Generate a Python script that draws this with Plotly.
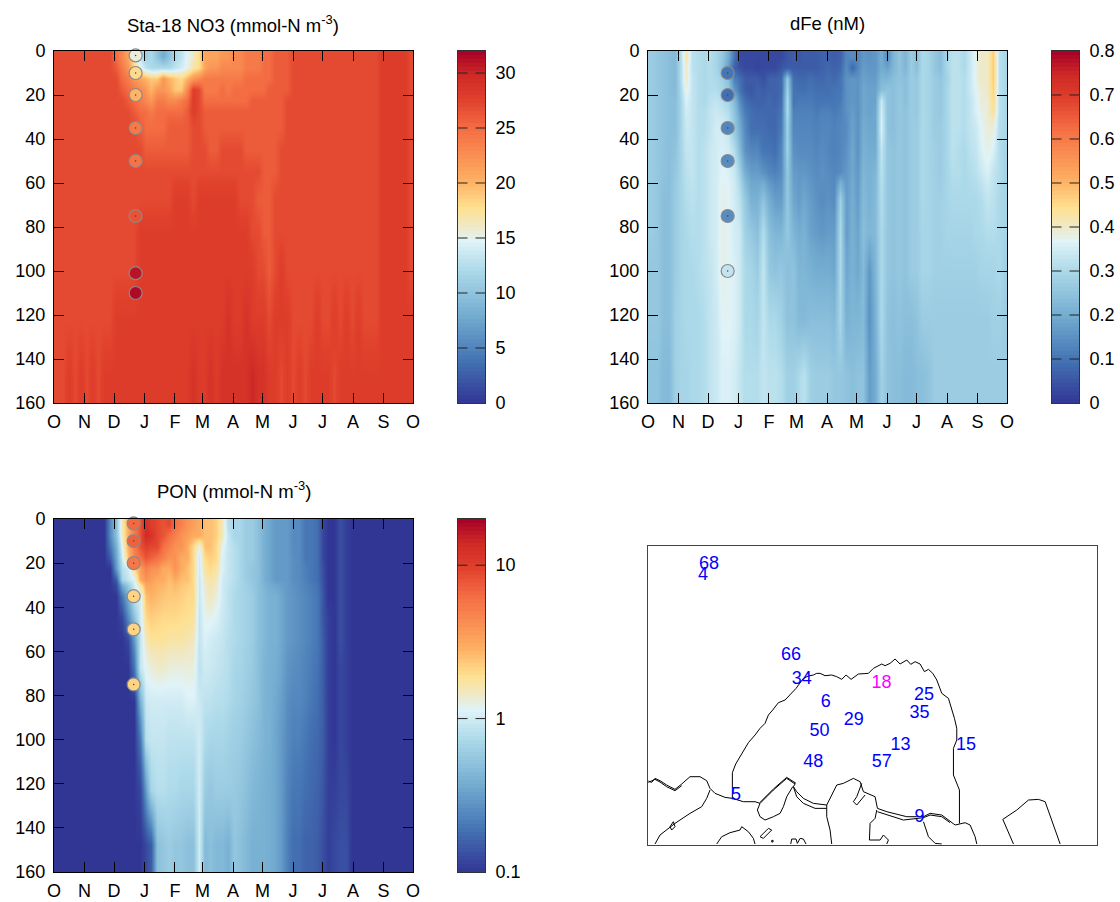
import numpy as np
import plotly.graph_objects as go

W, H = 1120, 902

# ---- shared grid -------------------------------------------------------
day_edges = list(range(0, 361, 6)) + [365]
depth_edges = [0, 5, 10, 15, 20, 25, 30, 40, 50, 60, 75, 90, 110, 135, 160]
month_days = [0, 31, 61, 92, 123, 151, 182, 212, 243, 273, 304, 335, 365]
month_labels = ["O", "N", "D", "J", "F", "M", "A", "M", "J", "J", "A", "S", "O"]
depth_ticks = [0, 20, 40, 60, 80, 100, 120, 140, 160]

# ---- NO3 (mmol-N m-3): one row per depth layer, one value per 6-day column
no3_rows = [
 [27,27,27,27,27,27,27,27,27,27, 25,23,21,17,13,11,12,10,8,10, 12,13,15,16,18,21,21,21,22,22, 23,23,24,24,24,25,25,26,26,26, 27,27,27,27,27,27,27,27,27,27, 27,27,27,27,27,28,28,28,28,28,27],
 [27,27,27,27,27,27,27,27,27,27, 26,24,22,18,15,13,12,12,12,12, 13,14,15,17,18,21,22,22,23,23, 23,23,24,24,24,25,25,26,26,26, 27,27,27,27,27,27,27,27,27,27, 27,27,27,27,27,28,28,28,28,28,27],
 [27,27,27,27,27,27,27,27,27,27, 27,25,24,22,21,20,19,19,22,20, 19,18,20,22,23,24,24,24,24,24, 24,24,25,25,25,25,25,26,26,26, 27,27,27,27,27,27,27,27,27,27, 27,27,27,27,27,28,28,28,28,28,27],
 [27,27,27,27,27,27,27,27,27,27, 27,26,25,24,23,22,20,22,22,21, 19,19,23,28,27,24,24,24,25,24, 25,25,25,25,25,25,26,26,26,26, 27,27,27,27,27,27,27,27,27,27, 27,27,27,27,27,28,28,28,28,28,27],
 [27,27,27,27,27,27,27,27,27,27, 27,27,26,25,24,23,22,24,24,23, 23,24,25,28,27,25,25,25,25,25, 25,25,25,26,26,26,26,26,26,27, 27,27,27,27,27,27,27,27,27,27, 27,27,27,27,27,28,28,28,28,28,27],
 [27,27,27,27,27,27,27,27,27,27, 27,27,27,26,25,25,24,25,25,25, 25,25,26,28,27,26,26,26,26,26, 26,26,26,26,26,26,26,26,26,27, 27,27,27,27,27,27,27,27,27,27, 27,27,27,27,27,28,28,28,28,28,27],
 [27,27,27,27,27,27,27,27,27,27, 27,27,27,27,26,25,25,25,25,26, 26,26,26,27,27,26,26,26,26,26, 26,26,26,26,26,26,26,26,26,27, 27,27,27,27,27,27,27,27,27,27, 27,27,27,27,27,28,28,28,28,28,27],
 [27,27,27,27,27,27,27,27,27,27, 27,27,27,27,27,26,26,26,26,26, 26,26,26,27,27,27,26,26,27,27, 27,27,26,26,26,26,26,26,27,27, 27,27,27,27,27,27,27,27,27,27, 27,27,27,27,27,28,28,28,28,28,27],
 [27,27,27,27,27,27,27,27,27,27, 27,27,27,27,27,27,27,27,27,27, 27,27,27,27,27,27,27,27,27,27, 27,27,27,27,27,26,26,26,27,27, 27,27,27,27,27,27,27,27,27,27, 27,27,27,27,27,28,28,28,28,28,27],
 [27,27,27,27,27,27,27,27,27,27, 27,27,27,27,27,27,27,27,27,27, 28,28,28,27,28,28,28,28,28,28, 28,27,27,27,26,26,26,27,27,27, 27,27,27,27,27,27,27,27,27,27, 27,27,27,27,27,28,28,28,28,28,27],
 [27,27,27,27,27,27,27,27,27,27, 27,27,27,27,28,28,28,28,28,28, 28,28,28,28,28,28,28,28,28,28, 28,28,28,27,27,26,26,27,27,27, 27,27,27,27,27,27,27,27,27,27, 27,27,27,27,27,28,28,28,28,28,27],
 [27,27,27,27,27,27,27,27,27,27, 27,27,27,27,28,28,28,28,28,28, 28,28,28,28,28,28,28,28,28,28, 28,28,28,28,27,27,26,27,28,27, 27,27,27,27,27,27,27,27,27,27, 27,27,27,27,27,28,28,28,28,28,27],
 [27,27,27,27,27,27,27,27,27,27, 28,28,28,28,28,28,28,28,28,28, 28,28,28,28,28,28,28,28,28,29, 28,28,29,28,28,28,27,28,28,28, 27,27,27,27,28,27,27,28,27,28, 27,28,27,27,27,28,28,28,28,28,28],
 [27,27,28,27,28,27,28,27,28,28, 28,28,28,28,28,28,28,28,28,28, 28,28,28,29,28,28,29,28,29,29, 29,29,29,30,29,29,28,28,27,28, 27,28,27,28,28,28,28,27,28,28, 28,28,28,28,28,28,28,28,28,28,28],
]
no3_obs_depth = [2, 10, 20, 35, 50, 75, 101, 110]
no3_obs_value = [15.5, 18, 20, 24, 24.5, 26.5, 31, 31.5]
no3_obs_day = 83
no3_ticks = [0, 5, 10, 15, 20, 25, 30]
no3_tick_text = ["0", "5", "10", "15", "20", "25", "30"]
no3_range = [0, 32]

# ---- dFe in hundredths of a nM --------------------------------------------
dfe_rows_centi = [
 [27,26,25,24,23,31,42,32,31,30, 31,29,26,20,10,3,3,3,3,3, 3,3,3,5,6,5,6,6,6,7, 7,6,7,13,14,13,16,15,16,20, 14,22,25,22,27,24,30,29,26,24, 29,32,32,30,34,38,40,40,47,32,30],
 [27,26,25,24,23,31,40,32,31,30, 31,29,25,17,7,4,3,3,2,3, 3,3,5,6,6,6,6,6,6,7, 8,7,8,14,8,13,17,16,16,20, 18,22,25,22,27,24,30,29,26,24, 29,32,32,30,34,38,40,40,47,32,30],
 [27,26,25,24,23,31,40,33,31,30, 31,30,28,24,12,9,6,6,6,4, 7,7,8,26,9,8,8,9,8,8, 9,8,10,15,16,15,18,17,17,22, 22,24,25,24,27,26,30,29,27,26, 28,32,32,31,34,38,40,40,47,32,30],
 [27,26,25,24,23,30,38,33,31,30, 31,31,29,26,16,10,6,5,7,6, 7,7,8,28,10,9,9,10,9,9, 9,10,10,15,16,15,19,18,18,24, 25,24,26,24,27,26,30,29,27,26, 29,32,32,31,34,37,39,40,46,32,30],
 [27,26,25,24,24,29,36,33,31,30, 32,33,31,29,23,14,9,7,7,7, 8,7,9,30,10,11,11,11,10,10, 10,10,11,15,16,15,19,18,18,34, 25,24,26,24,27,26,30,29,27,26, 29,32,32,31,33,36,39,39,45,32,30],
 [27,26,25,24,24,29,35,33,31,31, 33,34,33,31,25,17,11,9,8,8, 8,8,10,30,12,12,12,12,11,12, 12,11,12,15,17,15,19,18,19,35, 25,24,26,25,27,26,30,29,27,26, 29,32,32,31,33,36,38,39,44,32,30],
 [27,26,25,24,24,29,34,33,31,31, 33,35,35,33,26,20,13,9,9,9, 8,8,11,28,13,13,13,13,12,13, 13,12,13,14,18,15,20,19,19,36, 25,24,26,25,27,27,30,29,27,27, 29,32,32,31,33,34,37,39,39,31,30],
 [27,26,25,24,25,29,33,33,31,32, 34,35,36,35,31,23,15,13,13,10, 10,9,13,28,15,14,14,14,13,14, 13,12,13,15,19,15,21,20,20,33, 26,25,26,25,27,27,30,29,28,27, 29,32,31,30,32,33,36,38,36,31,29],
 [27,26,25,24,26,29,32,33,31,32, 34,35,37,36,34,28,20,17,17,15, 13,12,14,26,17,16,16,15,14,15, 14,13,14,16,19,16,22,21,22,32, 26,25,26,25,27,27,30,29,28,27, 29,31,31,30,31,32,34,36,33,31,29],
 [27,26,24,24,27,29,31,32,31,32, 34,35,38,37,35,32,26,21,21,25, 20,17,17,26,19,17,19,17,15,14, 15,14,28,17,20,17,23,21,23,31, 26,25,26,25,27,27,30,29,28,28, 29,30,30,30,30,30,31,33,32,30,29],
 [27,26,24,24,27,29,30,31,31,32, 34,35,38,37,35,34,28,26,24,31, 24,22,22,26,22,20,21,18,17,16, 17,17,30,17,21,18,24,22,23,30, 26,25,26,25,27,27,29,29,28,28, 29,29,29,29,29,30,30,31,31,30,29],
 [26,26,24,24,27,29,30,30,31,32, 33,35,38,37,36,34,30,29,27,33, 26,25,26,24,25,22,22,21,20,20, 20,19,30,19,21,19,23,16,22,30, 26,25,26,25,27,27,29,29,28,28, 28,28,28,28,28,28,29,29,29,30,28],
 [26,26,24,24,28,29,30,30,30,31, 33,34,37,37,36,34,30,30,29,33, 30,30,28,25,25,23,23,24,24,24, 24,23,29,21,22,22,23,15,21,30, 25,24,25,24,24,25,27,27,27,27, 27,27,27,27,27,27,27,27,28,28,27],
 [25,25,23,23,28,29,29,30,30,31, 33,34,36,36,35,33,31,31,31,33, 32,32,31,28,28,30,32,28,27,27, 27,26,26,25,24,25,25,17,20,28, 25,24,24,23,23,24,24,25,27,27, 27,27,27,27,27,27,27,27,27,27,27],
]
dfe_obs_depth = [10, 20, 35, 50, 75, 100]
dfe_obs_value = [0.10, 0.09, 0.13, 0.14, 0.14, 0.33]
dfe_obs_day = 81
dfe_ticks = [0, 0.1, 0.2, 0.3, 0.4, 0.5, 0.6, 0.7, 0.8]
dfe_tick_text = ["0", "0.1", "0.2", "0.3", "0.4", "0.5", "0.6", "0.7", "0.8"]
dfe_range = [0, 0.8]

# ---- PON (mmol-N m-3) -------------------------------------------------------
pon_rows = [
 [.1,.1,.1,.1,.1,.1,.1,.1,.1,.25, .5,1.6,3,6,8,13,10,9,8,9, 6,5,4,3.5,3,2.5,2.5,2.2,1.5,.8, .7,.7,.6,.6,.5,.4,.35,.3,.3,.3, .25,.25,.2,.2,.18,.12,.1,.1,.13,.11, .1,.1,.1,.1,.1,.1,.1,.1,.1,.1,.1],
 [.1,.1,.1,.1,.1,.1,.1,.1,.1,.25, .5,1.5,3,5,8,14,12,9,8,6, 5,4,3.5,3,3,2.5,2.5,2.2,1.5,.9, .7,.7,.6,.6,.5,.4,.35,.3,.3,.3, .25,.25,.2,.2,.18,.12,.1,.1,.13,.11, .1,.1,.1,.1,.1,.1,.1,.1,.1,.1,.1],
 [.1,.1,.1,.1,.1,.1,.1,.1,.1,.2, .4,1.2,3,5,8,10,9,9,6,5, 4,4,3,2,1.2,2.5,2.5,2,1.2,.9, .8,.7,.6,.6,.5,.4,.35,.3,.3,.3, .25,.25,.2,.2,.18,.12,.1,.1,.13,.11, .1,.1,.1,.1,.1,.1,.1,.1,.1,.1,.1],
 [.1,.1,.1,.1,.1,.1,.1,.1,.1,.15, .35,1,2.5,5,6,8,7,6,5,4, 4,3,3,2,1,2,2.2,2,1.1,.9, .8,.7,.6,.6,.5,.4,.35,.3,.3,.3, .26,.25,.2,.2,.18,.12,.1,.1,.13,.11, .1,.1,.1,.1,.1,.1,.1,.1,.1,.1,.1],
 [.1,.1,.1,.1,.1,.1,.1,.1,.1,.1, .3,.8,1,2,3.5,5,4,4,3,3, 4,3,2.5,2,1,1.7,2,1.7,1.1,.9, .8,.7,.6,.55,.5,.4,.35,.3,.3,.3, .26,.25,.22,.2,.18,.13,.1,.1,.13,.11, .1,.1,.1,.1,.1,.1,.1,.1,.1,.1,.1],
 [.1,.1,.1,.1,.1,.1,.1,.1,.1,.1, .15,.7,.9,1.1,3,4,3.5,3,3,2.5, 3,2.5,2.5,2,.95,1.5,1.7,1.5,1,.9, .8,.7,.6,.55,.5,.4,.35,.3,.3,.3, .26,.25,.22,.2,.18,.13,.1,.1,.13,.11, .1,.1,.1,.1,.1,.1,.1,.1,.1,.1,.1],
 [.1,.1,.1,.1,.1,.1,.1,.1,.1,.1, .1,.2,.4,.9,1,2.5,2.8,2.6,2.4,2.3, 2.3,2.2,2,2,.95,1.3,1.5,1.3,1,.85, .75,.7,.65,.6,.5,.45,.4,.4,.35,.3, .28,.26,.24,.22,.2,.14,.1,.1,.13,.11, .1,.1,.1,.1,.1,.1,.1,.1,.1,.1,.1],
 [.1,.1,.1,.1,.1,.1,.1,.1,.1,.1, .1,.12,.25,.5,1,2,2.2,2.1,2,2, 2,1.9,1.9,1.8,.9,1.2,1.2,1.1,.95,.85, .75,.7,.65,.6,.5,.45,.4,.4,.35,.3, .28,.26,.24,.22,.2,.14,.11,.1,.13,.11, .1,.1,.1,.1,.1,.1,.1,.1,.1,.1,.1],
 [.1,.1,.1,.1,.1,.1,.1,.1,.1,.1, .1,.1,.12,.3,.9,1.5,1.8,1.8,1.8,1.7, 1.7,1.7,1.6,1.5,.9,1.1,1,.95,.9,.8, .75,.7,.65,.6,.5,.45,.4,.4,.35,.3, .28,.26,.24,.22,.2,.15,.11,.1,.13,.11, .1,.1,.1,.1,.1,.1,.1,.1,.1,.1,.1],
 [.1,.1,.1,.1,.1,.1,.1,.1,.1,.1, .1,.1,.1,.2,.9,1.2,1.3,1.4,1.4,1.3, 1.3,1.3,1.3,1.3,.85,1,.95,.9,.85,.8, .7,.68,.62,.58,.5,.42,.4,.38,.34,.28, .26,.25,.23,.21,.19,.15,.11,.1,.12,.11, .1,.1,.1,.1,.1,.1,.1,.1,.1,.1,.1],
 [.1,.1,.1,.1,.1,.1,.1,.1,.1,.1, .1,.1,.1,.1,.4,.95,1,1,1,1, 1,1,1.1,1.1,.95,.85,.85,.8,.8,.75, .68,.65,.6,.55,.5,.42,.4,.36,.32,.26, .24,.24,.22,.2,.18,.15,.11,.1,.12,.11, .1,.1,.1,.1,.1,.1,.1,.1,.1,.1,.1],
 [.1,.1,.1,.1,.1,.1,.1,.1,.1,.1, .1,.1,.1,.1,.2,.8,.9,.9,.9,.85, .85,.85,.85,.85,1,.75,.7,.7,.7,.65, .62,.6,.55,.5,.46,.42,.4,.35,.3,.25, .22,.22,.2,.18,.17,.15,.11,.1,.12,.11, .1,.1,.1,.1,.1,.1,.1,.1,.1,.1,.1],
 [.1,.1,.1,.1,.1,.1,.1,.1,.1,.1, .1,.1,.1,.1,.12,.3,.7,.8,.8,.75, .75,.7,.7,.7,1,.6,.55,.6,.6,.6, .58,.55,.5,.45,.42,.4,.38,.35,.3,.23, .2,.2,.18,.17,.16,.14,.11,.11,.12,.12, .1,.1,.1,.1,.1,.1,.1,.1,.1,.1,.1],
 [.1,.1,.1,.1,.1,.1,.1,.1,.1,.1, .1,.1,.1,.1,.1,.12,.15,.5,.55,.6, .55,.55,.5,.5,1,.45,.5,.45,.45,.4, .55,.5,.45,.4,.4,.4,.38,.35,.3,.22, .18,.18,.16,.16,.15,.13,.11,.12,.13,.13, .1,.1,.1,.1,.1,.1,.1,.1,.1,.1,.1],
]
pon_obs_depth = [2, 10, 20, 35, 50, 75]
pon_obs_value = [6.5, 7, 5.5, 2.1, 2.1, 2.1]
pon_obs_day = 81
pon_ticks = [0.1, 1, 10]
pon_tick_text = ["0.1", "1", "10"]
pon_range = [0.1, 20]

# ---- station map (map units run with the picture: x right, y down) ----------
station_labels = ["66", "34", "6", "18", "25", "35", "29", "50", "13", "15", "48", "57", "5", "9", "68", "4"]
station_x = [453, 485, 557, 724, 852, 838, 641, 538, 781, 978, 520, 725, 288, 838, 207, 189]
station_y = [45, 117, 187, 131, 167, 221, 241, 275, 315, 315, 366, 368, 467, 533, -228, -195]
station_colors = ["#ff00ff" if s == "18" else "#0000ff" for s in station_labels]

map_lines = [
 # shelf-break contour
 ([277, 277, 287, 300, 315, 325, 345, 360, 375, 385, 398, 415, 435, 450, 468, 490, 505, 520, 530, 540, 555, 575, 590, 605, 618, 633, 655, 685, 700, 725, 735, 750, 765, 780, 800, 812, 825, 840, 853, 865, 878, 890, 905, 925, 935, 943, 950, 950, 940, 940, 958, 958],
  [478, 398, 372, 350, 325, 308, 285, 265, 250, 225, 210, 188, 180, 165, 145, 115, 108, 105, 100, 100, 107, 105, 110, 118, 105, 118, 102, 100, 85, 72, 77, 70, 57, 72, 60, 73, 65, 72, 95, 88, 100, 120, 160, 175, 205, 235, 265, 300, 325, 405, 450, 550]),
 # main coast
 ([25, 35, 45, 60, 80, 105, 125, 150, 180, 200, 210, 225, 255, 277, 310, 345, 360, 400, 440, 465, 460, 470, 490, 520, 560, 575, 590, 610, 640, 660, 670, 705, 712, 740, 800, 850, 870, 905, 925, 945, 975, 990, 1005, 1010],
  [423, 427, 415, 422, 435, 448, 432, 410, 410, 422, 445, 460, 472, 475, 485, 485, 490, 450, 415, 432, 440, 455, 475, 490, 495, 465, 435, 430, 415, 425, 455, 470, 505, 515, 530, 530, 520, 525, 540, 555, 548, 555, 590, 612]),
 # second trace of the coast
 ([360, 400, 440, 468], [487, 447, 412, 430]),
 ([25, 45, 60, 80, 105, 125], [427, 418, 426, 440, 452, 437]),
 ([460, 470, 490, 525, 560], [440, 470, 490, 505, 505]),
 ([712, 760, 790, 850, 870, 905, 930], [515, 530, 540, 533, 525, 530, 548]),
 # inland outlines
 ([210, 200, 185, 150, 105, 85, 60, 45], [450, 475, 500, 520, 550, 565, 585, 612]),
 ([90, 100, 105, 95, 90], [560, 545, 560, 570, 560]),
 ([360, 352, 360, 375, 400, 420, 430, 440, 458], [490, 510, 530, 540, 530, 520, 500, 470, 440]),
 ([560, 560, 570, 575], [495, 530, 570, 612]),
 ([665, 650, 640, 650, 675], [430, 470, 485, 495, 465]),
 ([710, 705, 690, 688, 720, 730, 745, 740], [510, 535, 550, 600, 600, 585, 600, 612]),
 ([850, 865, 885, 905], [545, 590, 610, 612]),
 ([230, 245, 270, 300, 305, 325, 340, 345], [612, 590, 578, 570, 560, 575, 595, 612]),
 ([360, 385, 395, 370, 360], [590, 565, 570, 595, 590]),
 ([395, 399, 399, 395, 395], [601, 601, 606, 606, 601]),
 ([452, 455, 468, 472, 480, 490, 498], [612, 597, 597, 610, 595, 597, 612]),
 ([1120, 1088, 1130, 1165, 1195, 1215, 1260], [612, 538, 510, 480, 478, 485, 612]),
]
map_x_range = [24, 1369]
map_y_range = [614, -282]

# ---- colours ----------------------------------------------------------------
palette = [
 [0.0, "#313695"], [0.125, "#4575b4"], [0.25, "#74add1"], [0.375, "#abd9e9"],
 [0.46, "#e0f3f8"], [0.50, "#eee9c8"], [0.555, "#fee090"], [0.635, "#fdae61"],
 [0.78, "#f46d43"], [0.86, "#e0412c"], [0.93, "#d02a26"], [1.0, "#a50026"],
]

# ---- pixel boxes ------------------------------------------------------------
def xdom(a, b):
    return [a / W, b / W]

def ydom(top, bottom):
    return [1 - bottom / H, 1 - top / H]

fig = go.Figure()
layout = dict(
    template="none",
    width=W, height=H, autosize=False, margin=dict(l=0, r=0, t=0, b=0),
    paper_bgcolor="white", plot_bgcolor="white", showlegend=False,
    font=dict(family="Liberation Sans, Arial, sans-serif", size=18, color="black"),
)
panels = [
    dict(n="", rows=np.array(no3_rows, float), obs_v=no3_obs_value, obs_d=no3_obs_depth, day=no3_obs_day,
         ticks=no3_ticks, text=no3_tick_text, rng=no3_range, box=(54, 413, 51, 403), cb=(457.5, 485),
         log=False, title="Sta-18 NO3 (mmol-N m<sup>-3</sup>)", title_xy=(233, 24)),
    dict(n="2", rows=np.array(dfe_rows_centi, float) / 100, obs_v=dfe_obs_value, obs_d=dfe_obs_depth, day=dfe_obs_day,
         ticks=dfe_ticks, text=dfe_tick_text, rng=dfe_range, box=(648, 1007, 51, 403), cb=(1051.5, 1079),
         log=False, title="dFe (nM)", title_xy=(827, 23)),
    dict(n="3", rows=np.array(pon_rows, float), obs_v=pon_obs_value, obs_d=pon_obs_depth, day=pon_obs_day,
         ticks=pon_ticks, text=pon_tick_text, rng=pon_range, box=(54, 413, 519, 872), cb=(457.5, 485),
         log=True, title="PON (mmol-N m<sup>-3</sup>)", title_xy=(234, 490)),
]
annotations, shapes = [], []
axis_common = dict(showline=True, linecolor="black", linewidth=1, mirror="ticks", ticks="inside",
                   ticklen=10, tickcolor="black", tickwidth=1, showgrid=False, zeroline=False, automargin=False,
                   tickfont=dict(size=18, color="black"), layer="above traces")

for i, p in enumerate(panels):
    assert p["rows"].shape == (len(depth_edges) - 1, len(day_edges) - 1), p["rows"].shape
    tf = np.log10 if p["log"] else (lambda v: np.asarray(v, float))
    cmin, cmax = [float(tf(np.array(v, float))) for v in p["rng"]]
    ca = "coloraxis" + p["n"]
    layout[ca] = dict(colorscale=palette, cmin=cmin, cmax=cmax, showscale=False)
    xn, yn = "x" + p["n"], "y" + p["n"]
    fig.add_trace(go.Heatmap(x=day_edges, y=depth_edges, z=tf(p["rows"]), coloraxis=ca, xaxis=xn, yaxis=yn,
                             zsmooth="best"))
    days = [p["day"]] * len(p["obs_d"])
    fig.add_trace(go.Scatter(x=days, y=p["obs_d"], mode="markers", xaxis=xn, yaxis=yn, cliponaxis=False,
                             marker=dict(size=13, color=tf(np.array(p["obs_v"], float)), coloraxis=ca,
                                         line=dict(color="#8a8a8a", width=1.2))))
    fig.add_trace(go.Scatter(x=days, y=p["obs_d"], mode="markers", xaxis=xn, yaxis=yn, cliponaxis=False,
                             marker=dict(size=1.5, color="#444444")))
    x0, x1, top, bot = p["box"]
    layout["xaxis" + p["n"]] = dict(axis_common, domain=xdom(x0, x1), range=[0, 365], tickmode="array",
                                    tickvals=month_days, ticktext=month_labels, anchor=yn, ticklabelstandoff=2)
    layout["yaxis" + p["n"]] = dict(axis_common, domain=ydom(top, bot), range=[160, 0], tickmode="array",
                                    tickvals=depth_ticks, anchor=xn, ticklabelstandoff=4)
    annotations.append(dict(text=p["title"], x=p["title_xy"][0] / W, y=1 - p["title_xy"][1] / H, xref="paper", yref="paper",
                            xanchor="center", yanchor="middle", showarrow=False, font=dict(size=18.5, color="black")))
    # colour key drawn on its own axes so that its dashed ticks sit on top
    cx, cy = "x" + str(5 + i), "y" + str(5 + i)
    levels = np.linspace(cmin, cmax, 89)
    fig.add_trace(go.Heatmap(x=[0, 1], y=levels, z=[[v] for v in (levels[:-1] + levels[1:]) / 2],
                             coloraxis=ca, xaxis=cx, yaxis=cy))
    tick_pos = [float(tf(np.array(t, float))) for t in p["ticks"]]
    layout["xaxis" + str(5 + i)] = dict(domain=xdom(*p["cb"]), range=[0, 1], showticklabels=False, ticks="", showgrid=False,
                                        zeroline=False, showline=True, mirror=True, linecolor="#333333", linewidth=1,
                                        anchor=cy, automargin=False)
    layout["yaxis" + str(5 + i)] = dict(domain=ydom(top, bot), range=[cmin, cmax], side="right", tickmode="array",
                                        tickvals=tick_pos, ticktext=p["text"], ticks="", showgrid=False, zeroline=False,
                                        showline=True, mirror=True, linecolor="#333333", linewidth=1, anchor=cx, automargin=False,
                                        ticklabelstandoff=6, tickfont=dict(size=18, color="black"))
    for t in tick_pos:
        if cmin < t < cmax:
            shapes.append(dict(type="line", xref=cx, yref=cy, x0=0, x1=1, y0=t, y1=t, layer="above",
                               line=dict(color="#222222", width=1, dash="10px,8px")))

# ---- map ---------------------------------------------------------------------
for mx, my in map_lines:
    fig.add_trace(go.Scatter(x=mx, y=my, mode="lines", xaxis="x4", yaxis="y4",
                             line=dict(color="black", width=1)))
fig.add_trace(go.Scatter(x=station_x, y=station_y, mode="text", text=station_labels, xaxis="x4", yaxis="y4",
                         textposition="middle center", textfont=dict(size=18, color=station_colors)))
layout["xaxis4"] = dict(domain=xdom(648, 1096.5), range=map_x_range, showticklabels=False, ticks="", showgrid=False,
                        zeroline=False, showline=True, mirror=True, linecolor="#444444", linewidth=1, anchor="y4", automargin=False)
layout["yaxis4"] = dict(domain=ydom(546, 844.7), range=map_y_range, showticklabels=False, ticks="", showgrid=False,
                        zeroline=False, showline=True, mirror=True, linecolor="#444444", linewidth=1, anchor="x4", automargin=False)

layout["annotations"] = annotations
layout["shapes"] = shapes
fig.update_layout(**layout)
fig.write_html("out.html", config={"displayModeBar": False}, post_script="document.body.style.margin='0';")
